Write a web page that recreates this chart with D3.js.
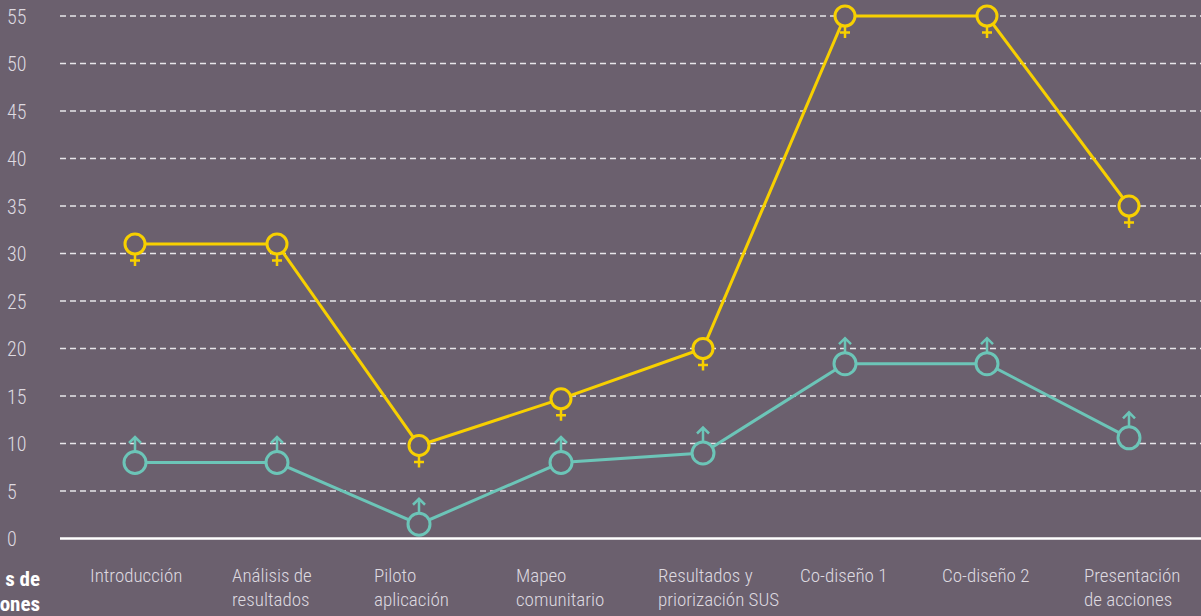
<!DOCTYPE html>
<html>
<head>
<meta charset="utf-8">
<script src="https://cdn.jsdelivr.net/npm/d3@7"></script>
<style>
  html, body { margin: 0; padding: 0; background: #6b606e; overflow: hidden; }
  svg { display: block; }
</style>
</head>
<body>
<svg id="chart" width="1201" height="616"></svg>
<script>
const categories = [
  ["Introducción"],
  ["Análisis de", "resultados"],
  ["Piloto", "aplicación"],
  ["Mapeo", "comunitario"],
  ["Resultados y", "priorización SUS"],
  ["Co-diseño 1"],
  ["Co-diseño 2"],
  ["Presentación", "de acciones"]
];
const mujeres = [31, 31, 9.8, 14.7, 20, 55, 55, 35];
const hombres = [8, 8, 1.5, 8, 9, 18.4, 18.4, 10.6];
const yTicks = [0, 5, 10, 15, 20, 25, 30, 35, 40, 45, 50, 55];
const titleLines = ["s de", "ones"];

const W = 1201, H = 616;
const BG = "#6b606e";
const YELLOW = "#f7d000";
const TEAL = "#6cc5b8";
const TEXT = "#dedae0";
const FONT = "'Roboto Condensed', 'Liberation Sans Narrow', 'DejaVu Sans Condensed', sans-serif";

const svg = d3.select("#chart");
svg.append("rect").attr("width", W).attr("height", H).attr("fill", BG);

const idx = categories.map((d, i) => i);
const x = d3.scaleBand().domain(idx).range([64, 1200]).padding(0);
const y = d3.scaleLinear().domain([0, 55]).range([538.5, 16]);

// gridlines
const grid = svg.append("g");
grid.selectAll("line").data(yTicks.filter(t => t > 0)).join("line")
  .attr("x1", 60).attr("x2", W)
  .attr("y1", d => y(d)).attr("y2", d => y(d))
  .attr("stroke", "#e8e6ea").attr("stroke-width", 1.5)
  .attr("stroke-dasharray", "6,4");

// y tick labels
const yAxis = d3.axisLeft(y).tickValues(yTicks).tickSize(0).tickPadding(0);
const gy = svg.append("g").attr("transform", "translate(7,0)").call(yAxis);
gy.select(".domain").remove();
gy.selectAll("text")
  .attr("text-anchor", "start")
  .attr("x", 0)
  .attr("dy", "0.35em")
  .attr("fill", TEXT)
  .style("font-family", FONT)
  .style("font-weight", 300)
  .style("font-size", "20px");

// base axis line
svg.append("line")
  .attr("x1", 60).attr("x2", W)
  .attr("y1", y(0)).attr("y2", y(0))
  .attr("stroke", "#ffffff").attr("stroke-width", 2.5);

// x labels
const xl = svg.append("g");
categories.forEach((lines, i) => {
  const t = xl.append("text")
    .attr("x", x(i) + 26)
    .attr("y", 582)
    .attr("fill", TEXT)
    .style("font-family", FONT)
    .style("font-weight", 300)
    .style("font-size", "19px");
  lines.forEach((ln, j) => {
    t.append("tspan").attr("x", x(i) + 26).attr("dy", j === 0 ? 0 : 24).text(ln);
  });
});

// title fragment at left edge
const tt = svg.append("text")
  .attr("x", 40).attr("y", 586)
  .attr("text-anchor", "end")
  .attr("fill", "#ffffff")
  .style("font-family", FONT)
  .style("font-weight", "bold")
  .style("font-size", "21px");
titleLines.forEach((ln, j) => {
  tt.append("tspan").attr("x", 40).attr("dy", j === 0 ? 0 : 25).text(ln);
});

const cx = i => x(i) + x.bandwidth() / 2;
const line = d3.line().x((d, i) => cx(i)).y(d => y(d));

// lines
svg.append("path").datum(hombres).attr("d", line)
  .attr("fill", "none").attr("stroke", TEAL).attr("stroke-width", 3);
svg.append("path").datum(mujeres).attr("d", line)
  .attr("fill", "none").attr("stroke", YELLOW).attr("stroke-width", 3);

// male markers
const male = svg.append("g").selectAll("g").data(hombres).join("g")
  .attr("transform", (d, i) => `translate(${cx(i)},${y(d)})`);
male.append("path")
  .attr("d", "M0,-11 V-25 M-6,-19.5 L0,-25.5 L6,-19.5")
  .attr("fill", "none").attr("stroke", TEAL).attr("stroke-width", 2.5);
male.append("circle").attr("r", 11)
  .attr("fill", BG).attr("stroke", TEAL).attr("stroke-width", 3);

// female markers
const fem = svg.append("g").selectAll("g").data(mujeres).join("g")
  .attr("transform", (d, i) => `translate(${cx(i)},${y(d)})`);
fem.append("path")
  .attr("d", "M0,10 V22 M-5,16.5 H5")
  .attr("fill", "none").attr("stroke", YELLOW).attr("stroke-width", 2.5);
fem.append("circle").attr("r", 10)
  .attr("fill", BG).attr("stroke", YELLOW).attr("stroke-width", 3);
</script>
</body>
</html>
